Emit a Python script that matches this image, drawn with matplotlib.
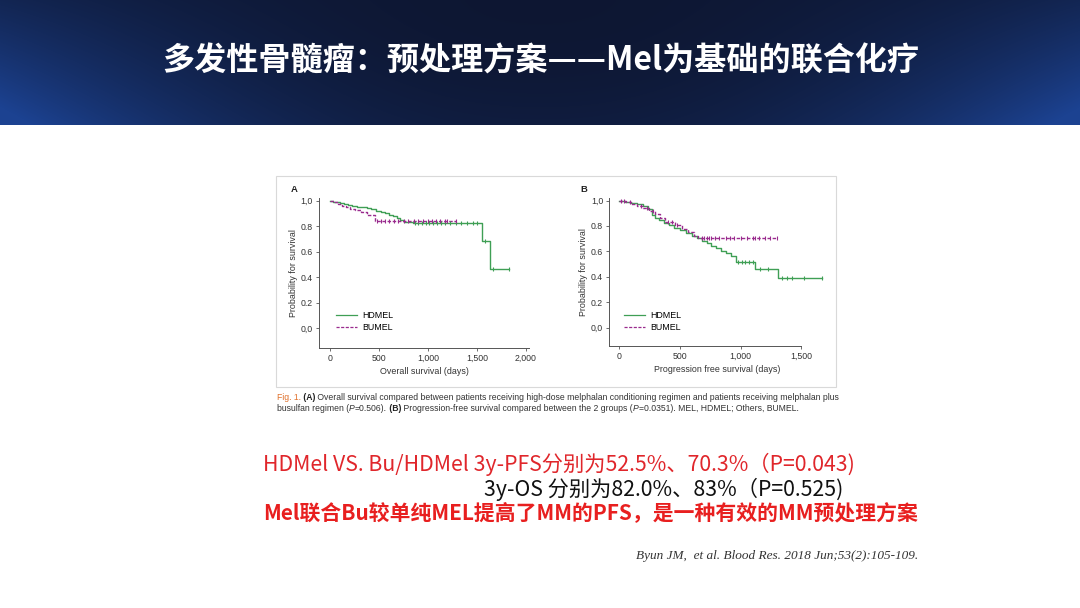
import numpy as np
import matplotlib
matplotlib.use("Agg")
import matplotlib.pyplot as plt
from matplotlib.lines import Line2D
from matplotlib.patches import Rectangle

CJK = ['Noto Sans CJK SC', 'DejaVu Sans']

# ---------------- data ----------------
title = "多发性骨髓瘤：预处理方案——Mel为基础的联合化疗"

# Panel A: overall survival
a_hd_t = [0, 30, 60, 100, 140, 180, 230, 280, 330, 380, 420, 470, 520, 560, 600, 640, 680, 720, 760, 850, 1550, 1630]
a_hd_s = [1.0, 0.99, 0.985, 0.978, 0.972, 0.966, 0.96, 0.953, 0.946, 0.938, 0.93, 0.92, 0.91, 0.90, 0.89, 0.875, 0.86, 0.845, 0.835, 0.82, 0.68, 0.46]
a_hd_end = 1830
a_hd_cens = [870, 900, 940, 980, 1010, 1050, 1090, 1130, 1180, 1230, 1290, 1340, 1400, 1460, 1500, 1580, 1670, 1830]

a_bu_t = [0, 40, 80, 120, 160, 200, 260, 320, 380, 455]
a_bu_s = [1.0, 0.99, 0.975, 0.96, 0.95, 0.935, 0.925, 0.91, 0.89, 0.838]
a_bu_end = 1290
a_bu_cens = [480, 520, 560, 600, 650, 700, 760, 800, 860, 900, 950, 1000, 1040, 1080, 1120, 1170, 1200, 1290]

# Panel B: progression free survival
b_hd_t = [0, 50, 100, 150, 200, 240, 270, 300, 330, 370, 410, 450, 500, 550, 600, 640, 680, 720, 760, 800, 840, 880, 920, 960, 1120, 1310]
b_hd_s = [1.0, 0.99, 0.98, 0.97, 0.955, 0.93, 0.89, 0.865, 0.845, 0.825, 0.805, 0.785, 0.765, 0.745, 0.725, 0.705, 0.685, 0.665, 0.645, 0.625, 0.60, 0.585, 0.56, 0.518, 0.465, 0.39]
b_hd_end = 1670
b_hd_cens = [980, 1010, 1040, 1070, 1100, 1160, 1230, 1340, 1380, 1420, 1520, 1670]

b_bu_t = [0, 60, 100, 150, 200, 250, 300, 340, 380, 460, 520, 570, 620, 650]
b_bu_s = [1.0, 0.99, 0.975, 0.96, 0.94, 0.92, 0.895, 0.86, 0.83, 0.81, 0.775, 0.75, 0.725, 0.703]
b_bu_end = 1300
b_bu_cens = [20, 40, 90, 180, 230, 280, 400, 440, 480, 680, 700, 720, 740, 760, 790, 820, 880, 910, 950, 1000, 1050, 1100, 1120, 1150, 1200, 1240, 1300]

y_ticks = [0.0, 0.2, 0.4, 0.6, 0.8, 1.0]
y_ticklabels = ["0,0", "0.2", "0.4", "0.6", "0.8", "1,0"]
a_xticks = [0, 500, 1000, 1500, 2000]
a_xticklabels = ["0", "500", "1,000", "1,500", "2,000"]
b_xticks = [0, 500, 1000, 1500]
b_xticklabels = ["0", "500", "1,000", "1,500"]
series_names = ["HDMEL", "BUMEL"]

caption_parts1 = [("Fig. 1.", "#e0702a", "normal"), (" (A)", "#222222", "bold"),
                  (" Overall survival compared between patients receiving high-dose melphalan conditioning regimen and patients receiving melphalan plus", "#333333", "normal")]
caption_parts2 = [("busulfan regimen (", "#333333", "normal"), ("P", "#333333", "italic"),
                  ("=0.506).", "#333333", "normal"), (" (B)", "#222222", "bold"),
                  (" Progression-free survival compared between the 2 groups (", "#333333", "normal"),
                  ("P", "#333333", "italic"), ("=0.0351). MEL, HDMEL; Others, BUMEL.", "#333333", "normal")]

line1 = "HDMel VS. Bu/HDMel 3y-PFS分别为52.5%、70.3%（P=0.043)"
line2 = "3y-OS 分别为82.0%、83%（P=0.525)"
line3 = "Mel联合Bu较单纯MEL提高了MM的PFS，是一种有效的MM预处理方案"
citation = "Byun JM,  et al. Blood Res. 2018 Jun;53(2):105-109."

GREEN = "#3f9f55"
PURPLE = "#9a2b8e"
W, H = 1080, 608

fig = plt.figure(figsize=(10.8, 6.08), dpi=100)
fig.patch.set_facecolor("white")

bg = fig.add_axes([0, 0, 1, 1])
bg.set_xlim(0, W)
bg.set_ylim(H, 0)
bg.axis("off")

# header gradient
hh = 125
yy, xx = np.mgrid[0:hh, 0:W]
dx = np.abs(xx - W / 2) / (W / 2)
wgt = np.clip(0.1 + 0.9 * dx ** 2.2 * (0.35 + 0.65 * yy / hh) + 0.12 * (yy / hh) ** 2, 0, 1)
dark = np.array([12, 18, 40]) / 255.0
light = np.array([28, 66, 145]) / 255.0
img = dark[None, None, :] * (1 - wgt[..., None]) + light[None, None, :] * wgt[..., None]
bg.imshow(img, extent=(0, W, hh, 0), aspect="auto", zorder=0, interpolation="bilinear")
bg.set_xlim(0, W)
bg.set_ylim(H, 0)

bg.text(541, 61, title, ha="center", va="center", color="white", fontsize=23.1,
        fontweight="bold", family=CJK, zorder=3)

# figure box
bg.add_patch(Rectangle((276, 176), 560, 211, fill=False, edgecolor="#d9d9d9", lw=0.8, zorder=1))


def px_rect(l, t, r, b):
    return [l / W, 1 - b / H, (r - l) / W, (b - t) / H]


def km(ax, t, s, end, cens, color, ls):
    tt = list(t) + [end]
    ss = list(s) + [s[-1]]
    ax.step(tt, ss, where="post", color=color, lw=1.0, ls=ls, zorder=3)
    idx = np.searchsorted(np.array(t), np.array(cens), side="right") - 1
    cy = np.array(s)[idx]
    ax.plot(cens, cy, ls="none", marker="|", ms=2.5, mew=0.8, color=color, zorder=4)


def style(ax, xticks, xticklabels, xlabel, xright):
    for sp in ["top", "right"]:
        ax.spines[sp].set_visible(False)
    for sp in ["left", "bottom"]:
        ax.spines[sp].set_color("#555555")
        ax.spines[sp].set_linewidth(0.7)
    ax.spines["bottom"].set_bounds(ax.get_xlim()[0], xright)
    ax.set_xticks(xticks)
    ax.set_xticklabels(xticklabels)
    ax.set_yticks(y_ticks)
    ax.set_yticklabels(y_ticklabels)
    ax.tick_params(length=2.5, width=0.6, color="#555555", labelsize=6.3,
                   labelcolor="#333333", pad=2)
    for lab in ax.get_xticklabels() + ax.get_yticklabels():
        lab.set_family("Liberation Sans")
    ax.set_xlabel(xlabel, fontsize=6.4, color="#333333", family="Liberation Sans", labelpad=2.5)
    ax.set_ylabel("Probability for survival", fontsize=6.4, color="#333333",
                  family="Liberation Sans", labelpad=2)
    ax.patch.set_alpha(0)


# Panel A
axA = fig.add_axes(px_rect(319, 198, 529, 348))
axA.set_xlim(-112, 2033)
axA.set_ylim(-0.157, 1.02)
km(axA, a_hd_t, a_hd_s, a_hd_end, a_hd_cens, GREEN, "-")
km(axA, a_bu_t, a_bu_s, a_bu_end, a_bu_cens, PURPLE, (0, (2.5, 1.2)))
style(axA, a_xticks, a_xticklabels, "Overall survival (days)", 2033)

# Panel B
axB = fig.add_axes(px_rect(609.3, 198, 825.6, 346))
axB.set_xlim(-80, 1700)
axB.set_ylim(-0.144, 1.02)
km(axB, b_hd_t, b_hd_s, b_hd_end, b_hd_cens, GREEN, "-")
km(axB, b_bu_t, b_bu_s, b_bu_end, b_bu_cens, PURPLE, (0, (2.5, 1.2)))
style(axB, b_xticks, b_xticklabels, "Progression free survival (days)", 1500)

handles = [Line2D([], [], color=GREEN, lw=0.9), Line2D([], [], color=PURPLE, lw=0.9, ls=(0, (2.5, 1.2)))]
for ax, lx in [(axA, 336), (axB, 624)]:
    ax.legend(handles, series_names, loc="upper left", bbox_to_anchor=(lx / W, 1 - 311 / H),
              bbox_transform=fig.transFigure, frameon=False,
              prop={"family": "Liberation Sans", "size": 6.4}, handlelength=2.4,
              handletextpad=0.6, labelspacing=0.3, borderpad=0, borderaxespad=0)

bg.text(291, 189, "A", fontsize=6.8, fontweight="bold", color="#222222", va="center",
        family="Liberation Sans")
bg.text(580, 189, "B", fontsize=6.8, fontweight="bold", color="#222222", va="center",
        family="Liberation Sans")


def chain(parts, x, y, fs):
    prev = None
    for s, c, w in parts:
        kw = dict(color=c, fontsize=fs, family="Liberation Sans")
        if w == "bold":
            kw["fontweight"] = "bold"
        if w == "italic":
            kw["fontstyle"] = "italic"
        if prev is None:
            prev = bg.text(x, y, s, va="baseline", ha="left", **kw)
        else:
            prev = bg.annotate(s, xy=(1, 0), xycoords=prev, xytext=(0, 0),
                               textcoords="offset points", va="bottom", ha="left", **kw)


chain(caption_parts1, 277, 400, 6.22)
chain(caption_parts2, 277, 411, 6.22)

bg.text(263, 464, line1, color="#e0262b", fontsize=15.3, family=CJK, va="center", ha="left")
bg.text(484, 489, line2, color="#111111", fontsize=15.3, family=CJK, va="center", ha="left")
bg.text(263, 513, line3, color="#e81f1f", fontsize=15, fontweight="bold", family=CJK,
        va="center", ha="left")
bg.text(918, 556, citation, color="#333333", fontsize=9.5, family="Liberation Serif",
        fontstyle="italic", va="center", ha="right")

fig.savefig("out.png", dpi=100)
